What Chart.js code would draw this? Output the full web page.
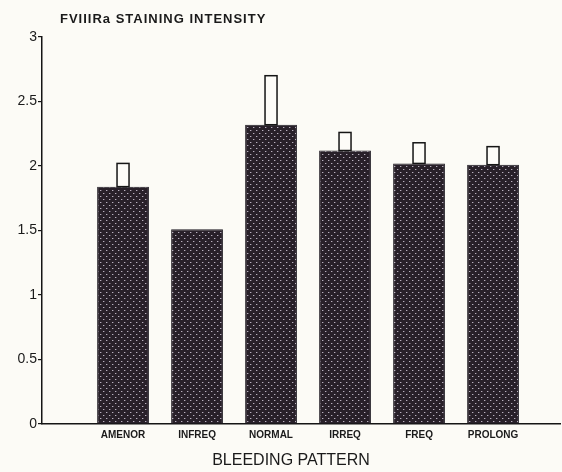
<!DOCTYPE html>
<html>
<head>
<meta charset="utf-8">
<script src="https://cdn.jsdelivr.net/npm/chart.js@4/dist/chart.umd.min.js"></script>
<style>
  html, body { margin: 0; padding: 0; background: #fcfbf6; }
  #wrap { width: 562px; height: 472px; position: relative; }
</style>
</head>
<body>
<div id="wrap"><canvas id="chart"></canvas></div>
<script>
const categories = ["AMENOR", "INFREQ", "NORMAL", "IRREQ", "FREQ", "PROLONG"];
const means = [1.84, 1.51, 2.32, 2.12, 2.02, 2.01];
const errors = [0.18, null, 0.38, 0.14, 0.16, 0.14];
const yTicks = [0, 0.5, 1, 1.5, 2, 2.5, 3];

// stippled dark fill like the printed bars
function makeStipple() {
  const c = document.createElement("canvas");
  c.width = 6; c.height = 6;
  const g = c.getContext("2d");
  g.fillStyle = "#282029";
  g.fillRect(0, 0, 6, 6);
  g.fillStyle = "#b8b0bc";
  g.fillRect(1, 1, 1, 1);
  g.fillRect(4, 4, 1, 1);
  g.fillStyle = "#5a5160";
  g.fillRect(2, 1, 1, 1);
  g.fillRect(5, 4, 1, 1);
  return g.createPattern(c, "repeat");
}

// open rectangles standing on top of the bars
const errorBoxes = {
  id: "errorBoxes",
  afterDatasetsDraw(chart) {
    const { ctx, scales: { x, y } } = chart;
    ctx.save();
    ctx.strokeStyle = "#151515";
    ctx.lineWidth = 1.5;
    ctx.fillStyle = "#fdfcf8";
    means.forEach((m, i) => {
      if (errors[i] == null) return;
      const cx = x.getPixelForValue(i);
      const top = y.getPixelForValue(m + errors[i]);
      const bot = y.getPixelForValue(m);
      ctx.fillRect(cx - 6, top, 12, bot - top);
      ctx.strokeRect(cx - 6, top, 12, bot - top);
    });
    ctx.restore();
  }
};

// headings placed as in the printed figure
const headings = {
  id: "headings",
  afterDraw(chart) {
    const ctx = chart.ctx;
    ctx.save();
    ctx.fillStyle = "#1a1a1a";
    ctx.textBaseline = "middle";
    ctx.font = "bold 13px 'Liberation Sans', Arial, sans-serif";
    ctx.letterSpacing = "1px";
    ctx.fillText("FVIIIRa STAINING INTENSITY", 60, 19);
    ctx.letterSpacing = "0px";
    ctx.font = "16px 'Liberation Sans', Arial, sans-serif";
    ctx.textAlign = "center";
    ctx.fillText("BLEEDING PATTERN", 291, 461);
    ctx.restore();
  }
};

const ctx = document.getElementById("chart").getContext("2d");
new Chart(ctx, {
  type: "bar",
  data: {
    datasets: [
      {
        data: means.map((v, i) => ({ x: i, y: v })),
        backgroundColor: makeStipple(),
        borderColor: "#1e1a22",
        borderWidth: 1,
        barPercentage: 0.875,
        categoryPercentage: 0.8,
      },
    ],
  },
  options: {
    responsive: true,
    maintainAspectRatio: false,
    animation: false,
    layout: { padding: { top: 37, right: 2, left: 0, bottom: 0 } },
    plugins: {
      legend: { display: false },
      tooltip: { enabled: false },
    },
    scales: {
      x: {
        type: "linear",
        offset: false,
        min: -1.095,
        max: 5.905,
        grid: { display: false },
        border: { display: true, color: "#151515", width: 1.5 },
        afterBuildTicks: (s) => {
          s.ticks = categories.map((c, i) => ({ value: i }));
        },
        ticks: {
          autoSkip: false,
          maxRotation: 0,
          padding: -3,
          color: "#1a1a1a",
          font: { family: "'Liberation Sans', Arial, sans-serif", size: 10, weight: "bold" },
          callback: (v) => categories[v],
        },
        afterFit: (s) => { s.height = 48; },
      },
      y: {
        min: 0,
        max: 3,
        afterBuildTicks: (s) => {
          s.ticks = yTicks.map((v) => ({ value: v }));
        },
        grid: { drawOnChartArea: false, drawTicks: true, tickLength: 4, color: "#151515", lineWidth: 1.2 },
        border: { display: true, color: "#151515", width: 1.5 },
        ticks: {
          padding: 1,
          color: "#1a1a1a",
          font: { family: "'Liberation Sans', Arial, sans-serif", size: 14 },
          callback: (v) => String(v),
        },
        afterFit: (s) => { s.width = 42; },
      },
    },
  },
  plugins: [errorBoxes, headings],
});
</script>
</body>
</html>
